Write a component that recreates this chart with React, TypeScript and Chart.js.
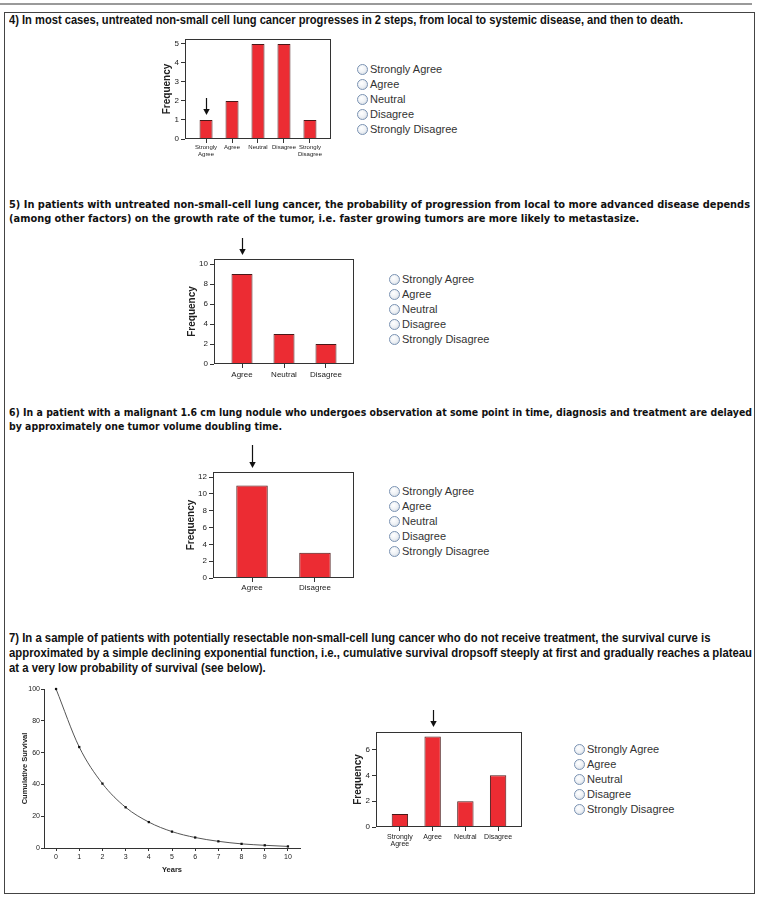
import React, { useEffect, useLayoutEffect, useRef } from 'react';
import { Chart, registerables } from 'chart.js';
Chart.register(...registerables);

// ---------- data ----------
const responseOptions = ['Strongly Agree', 'Agree', 'Neutral', 'Disagree', 'Strongly Disagree'];

const q4Categories = [['Strongly', 'Agree'], 'Agree', 'Neutral', 'Disagree', ['Strongly', 'Disagree']];
const q4Values = [1, 2, 5, 5, 1];
const q4Ticks = [0, 1, 2, 3, 4, 5];
const q4Answer = 0;

const q5Categories = ['Agree', 'Neutral', 'Disagree'];
const q5Values = [9, 3, 2];
const q5Ticks = [0, 2, 4, 6, 8, 10];
const q5Answer = 0;

const q6Categories = ['Agree', 'Disagree'];
const q6Values = [11, 3];
const q6Ticks = [0, 2, 4, 6, 8, 10, 12];
const q6Answer = 0;

const q7Categories = [['Strongly', 'Agree'], 'Agree', 'Neutral', 'Disagree'];
const q7Values = [1, 7, 2, 4];
const q7Ticks = [0, 2, 4, 6];
const q7Answer = 1;

const survivalYears = [0, 1, 2, 3, 4, 5, 6, 7, 8, 9, 10];
const survivalValues = [100, 63.5, 40.5, 25.6, 16.3, 10.3, 6.6, 4.2, 2.6, 1.7, 1.0];
const survivalTicks = [0, 20, 40, 60, 80, 100];

const q4Text = ['4) In most cases, untreated non-small cell lung cancer progresses in 2 steps, from local to systemic disease, and then to death.'];
const q5Text = [
  '5) In patients with untreated non-small-cell lung cancer, the probability of progression from local to more advanced disease depends',
  '(among other factors) on the growth rate of the tumor, i.e. faster growing tumors are more likely to metastasize.',
];
const q6Text = [
  '6) In a patient with a malignant 1.6 cm lung nodule who undergoes observation at some point in time, diagnosis and treatment are delayed',
  'by approximately one tumor volume doubling time.',
];
const q7Text = [
  '7) In a sample of patients with potentially resectable non-small-cell lung cancer who do not receive treatment, the survival curve is',
  'approximated by a simple declining exponential function, i.e., cumulative survival dropsoff steeply at first and gradually reaches a plateau',
  'at a very low probability of survival (see below).',
];

// ---------- helpers ----------
const AXIS_W = 40;
const AXIS_H = 26;
const PAD_TOP = 30;
const PAD_RIGHT = 20;
const BAR_FILL = '#ec2c33';
const BAR_EDGE = '#4a1818';
const INK = '#222';
const SANS = '"Liberation Sans", Arial, sans-serif';

const boxPlugin = {
  id: 'boxFrame',
  afterDatasetsDraw(chart: any, _args: any, opts: any) {
    if (!opts || !opts.enabled) return;
    const { ctx, chartArea: a } = chart;
    ctx.save();
    ctx.strokeStyle = '#333';
    ctx.lineWidth = 1;
    ctx.strokeRect(a.left + 0.5, a.top + 0.5, a.right - a.left - 1, a.bottom - a.top - 1);
    ctx.restore();
  },
};

const arrowPlugin = {
  id: 'answerArrow',
  afterDraw(chart: any, _args: any, opts: any) {
    if (!opts || opts.index == null) return;
    const { ctx } = chart;
    const xs = chart.scales.x;
    const ys = chart.scales.y;
    const x = Math.round(xs.getPixelForValue(opts.index)) + 0.5;
    let tip;
    if (opts.mode === 'bar') {
      tip = ys.getPixelForValue(opts.value) - opts.gap;
    } else {
      tip = chart.chartArea.top - opts.gap;
    }
    const top = tip - opts.len;
    ctx.save();
    ctx.strokeStyle = '#111';
    ctx.fillStyle = '#111';
    ctx.lineWidth = 1.2;
    ctx.beginPath();
    ctx.moveTo(x, top);
    ctx.lineTo(x, tip - 5);
    ctx.stroke();
    ctx.beginPath();
    ctx.moveTo(x - 3.2, tip - 6);
    ctx.lineTo(x + 3.2, tip - 6);
    ctx.lineTo(x, tip);
    ctx.closePath();
    ctx.fill();
    ctx.restore();
  },
};

type BarProps = {
  categories: any[];
  values: number[];
  ticks: number[];
  answer: number;
  box: { l: number; t: number; r: number; b: number };
  xPad: number;
  yMax: number;
  titlePad: number;
  xFont: any;
  xTickPad: number;
  arrow: { mode: string; gap: number; len: number };
};

function BarChart(p: BarProps) {
  const ref = useRef<HTMLCanvasElement>(null);
  const w = p.box.r - p.box.l + AXIS_W + PAD_RIGHT;
  const h = p.box.b - p.box.t + PAD_TOP + AXIS_H;
  useEffect(() => {
    const chart = new Chart(ref.current as HTMLCanvasElement, {
      type: 'bar',
      data: {
        datasets: [
          {
            data: p.values.map((v, i) => ({ x: i, y: v })),
            backgroundColor: BAR_FILL,
            borderColor: BAR_EDGE,
            borderWidth: 1,
            categoryPercentage: 1,
            barPercentage: 0.5,
          },
        ],
      },
      options: {
        responsive: false,
        animation: false,
        events: [],
        layout: { padding: { top: PAD_TOP, right: PAD_RIGHT, left: 0, bottom: 0 } },
        plugins: {
          legend: { display: false },
          tooltip: { enabled: false },
          boxFrame: { enabled: true },
          answerArrow: {
            index: p.answer,
            value: p.values[p.answer],
            mode: p.arrow.mode,
            gap: p.arrow.gap,
            len: p.arrow.len,
          },
        } as any,
        scales: {
          x: {
            type: 'linear',
            offset: false,
            min: -p.xPad,
            max: p.categories.length - 1 + p.xPad,
            bounds: 'data',
            afterBuildTicks: (s: any) => {
              s.ticks = p.categories.map((_c, i) => ({ value: i }));
            },
            afterFit: (s: any) => {
              s.height = AXIS_H;
            },
            border: { display: false },
            grid: { offset: false, drawOnChartArea: false, drawTicks: true, tickLength: 4, color: '#333' },
            ticks: {
              autoSkip: false,
              maxRotation: 0,
              minRotation: 0,
              padding: p.xTickPad,
              color: INK,
              font: p.xFont,
              callback: (v: any) => p.categories[v] as any,
            },
          },
          y: {
            type: 'linear',
            min: 0,
            max: p.yMax,
            afterBuildTicks: (s: any) => {
              s.ticks = p.ticks.map((v) => ({ value: v }));
            },
            afterFit: (s: any) => {
              s.width = AXIS_W;
            },
            border: { display: false },
            grid: { drawOnChartArea: false, drawTicks: true, tickLength: 4, color: '#333' },
            ticks: { padding: 2, color: INK, font: { family: SANS, size: 8 } },
            title: {
              display: true,
              text: 'Frequency',
              color: INK,
              padding: { top: p.titlePad, bottom: 0 },
              font: { family: SANS, size: 10, weight: 'bold' },
            },
          },
        },
      },
      plugins: [boxPlugin, arrowPlugin],
    } as any);
    return () => chart.destroy();
  }, []);
  return (
    <canvas
      ref={ref}
      width={w}
      height={h}
      style={{ position: 'absolute', left: p.box.l - AXIS_W, top: p.box.t - PAD_TOP, width: w, height: h, display: 'block' }}
    />
  );
}

function SurvivalChart() {
  const ref = useRef<HTMLCanvasElement>(null);
  const left = 8;
  const top = 680;
  const w = 308;
  const h = 196;
  useEffect(() => {
    const font = { family: SANS, size: 7 };
    const chart = new Chart(ref.current as HTMLCanvasElement, {
      type: 'line',
      data: {
        datasets: [
          {
            data: survivalYears.map((x, i) => ({ x, y: survivalValues[i] })),
            borderColor: '#555',
            borderWidth: 1,
            cubicInterpolationMode: 'monotone',
            pointStyle: 'rect',
            pointRadius: 1.6,
            pointBackgroundColor: '#111',
            pointBorderColor: '#111',
            pointBorderWidth: 0,
            clip: false,
          },
        ],
      },
      options: {
        responsive: false,
        animation: false,
        events: [],
        layout: { padding: { top: 9, right: 16, left: 0, bottom: 0 } },
        plugins: { legend: { display: false }, tooltip: { enabled: false } },
        scales: {
          x: {
            type: 'linear',
            min: -0.52,
            max: 10.52,
            afterBuildTicks: (s: any) => {
              s.ticks = survivalYears.map((v) => ({ value: v }));
            },
            afterFit: (s: any) => {
              s.height = 28;
            },
            border: { display: true, color: '#333', width: 1 },
            grid: { drawOnChartArea: false, drawTicks: true, tickLength: 3, color: '#333' },
            ticks: { padding: 2, color: INK, font, maxRotation: 0, autoSkip: false },
            title: {
              display: true,
              text: 'Years',
              color: INK,
              padding: { top: 0, bottom: 2 },
              font: { family: SANS, size: 7.5, weight: 'bold' },
            },
          },
          y: {
            type: 'linear',
            min: 0,
            max: 100,
            afterBuildTicks: (s: any) => {
              s.ticks = survivalTicks.map((v) => ({ value: v }));
            },
            afterFit: (s: any) => {
              s.width = 36;
            },
            border: { display: true, color: '#333', width: 1 },
            grid: { drawOnChartArea: false, drawTicks: true, tickLength: 3, color: '#333' },
            ticks: { padding: 1, color: INK, font },
            title: {
              display: true,
              text: 'Cumulative Survival',
              color: INK,
              padding: { top: 12, bottom: 0 },
              font: { family: SANS, size: 7.5, weight: 'bold' },
            },
          },
        },
      },
    } as any);
    return () => chart.destroy();
  }, []);
  return (
    <canvas
      ref={ref}
      width={w}
      height={h}
      style={{ position: 'absolute', left, top, width: w, height: h, display: 'block' }}
    />
  );
}

function Radios({ x, y }: { x: number; y: number }) {
  return (
    <div style={{ position: 'absolute', left: x - 5, top: y - 7.5 }}>
      {responseOptions.map((o) => (
        <div key={o} style={{ height: 15, display: 'flex', alignItems: 'center', whiteSpace: 'nowrap' }}>
          <span
            style={{
              display: 'inline-block',
              width: 9,
              height: 9,
              borderRadius: '50%',
              border: '1px solid #7b93b3',
              background: 'radial-gradient(circle at 40% 35%, #ffffff 0%, #eef1f5 50%, #c9d2dc 100%)',
              marginRight: 2,
              flex: 'none',
            }}
          />
          <span style={{ font: '11px "Liberation Sans", Arial, sans-serif', color: '#333' }}>{o}</span>
        </div>
      ))}
    </div>
  );
}

// Question text; squeezed horizontally so that its widest line spans `width` px
function Question({ lines, top, font, lh, width }: { lines: string[]; top: number; font: string; lh: number; width: number }) {
  const ref = useRef<HTMLDivElement>(null);
  useLayoutEffect(() => {
    const el = ref.current;
    if (!el) return;
    el.style.transform = 'none';
    let maxW = 0;
    Array.from(el.children).forEach((c: any) => {
      const r = c.getBoundingClientRect();
      maxW = Math.max(maxW, r.width);
    });
    if (maxW > 0) el.style.transform = `scaleX(${width / maxW})`;
  }, []);
  return (
    <div
      ref={ref}
      style={{
        position: 'absolute',
        left: 9,
        top,
        font,
        lineHeight: lh + 'px',
        color: '#111',
        whiteSpace: 'nowrap',
        transformOrigin: '0 0',
      }}
    >
      {lines.map((l, i) => (
        <div key={i} style={{ display: 'table' }}>
          {l}
        </div>
      ))}
    </div>
  );
}

export default function App() {
  const narrow = 'bold 12px "Liberation Sans", Arial, sans-serif';
  const wide = 'bold 9.6px "DejaVu Sans", Verdana, sans-serif';
  return (
    <div style={{ position: 'absolute', left: 0, top: 0, width: 759, height: 899, background: '#fff', overflow: 'hidden' }}>
      <div style={{ position: 'absolute', left: 0, top: 3, width: 752, height: 2, background: '#9a9a9a' }} />
      <div style={{ position: 'absolute', left: 4, top: 12, width: 749, height: 880, border: '1px solid #444' }} />

      <Question lines={q4Text} top={13} font={narrow} lh={14} width={674} />
      <BarChart
        categories={q4Categories}
        values={q4Values}
        ticks={q4Ticks}
        answer={q4Answer}
        box={{ l: 185, t: 39, r: 331, b: 139 }}
        xPad={0.81}
        yMax={5.26}
        titlePad={16}
        xFont={{ family: SANS, size: 6, lineHeight: 1.15 }}
        xTickPad={1}
        arrow={{ mode: 'bar', gap: 5, len: 17 }}
      />
      <Radios x={362} y={69} />

      <Question lines={q5Text} top={198} font={wide} lh={14} width={741} />
      <BarChart
        categories={q5Categories}
        values={q5Values}
        ticks={q5Ticks}
        answer={q5Answer}
        box={{ l: 214, t: 259, r: 354, b: 364 }}
        xPad={0.667}
        yMax={10.5}
        titlePad={12}
        xFont={{ family: SANS, size: 8 }}
        xTickPad={2}
        arrow={{ mode: 'box', gap: 4, len: 17 }}
      />
      <Radios x={394} y={279} />

      <Question lines={q6Text} top={406} font={wide} lh={14} width={743} />
      <BarChart
        categories={q6Categories}
        values={q6Values}
        ticks={q6Ticks}
        answer={q6Answer}
        box={{ l: 213, t: 472, r: 354, b: 578 }}
        xPad={0.62}
        yMax={12.6}
        titlePad={12}
        xFont={{ family: SANS, size: 8 }}
        xTickPad={1}
        arrow={{ mode: 'box', gap: 4, len: 23 }}
      />
      <Radios x={394} y={491} />

      <Question lines={q7Text} top={631} font={'bold 12px "Liberation Sans", Arial, sans-serif'} lh={15} width={743} />
      <SurvivalChart />
      <BarChart
        categories={q7Categories}
        values={q7Values}
        ticks={q7Ticks}
        answer={q7Answer}
        box={{ l: 376, t: 732, r: 522, b: 827 }}
        xPad={0.73}
        yMax={7.35}
        titlePad={16}
        xFont={{ family: SANS, size: 7, lineHeight: 1.1 }}
        xTickPad={2}
        arrow={{ mode: 'box', gap: 5, len: 17 }}
      />
      <Radios x={579} y={749} />
    </div>
  );
}
